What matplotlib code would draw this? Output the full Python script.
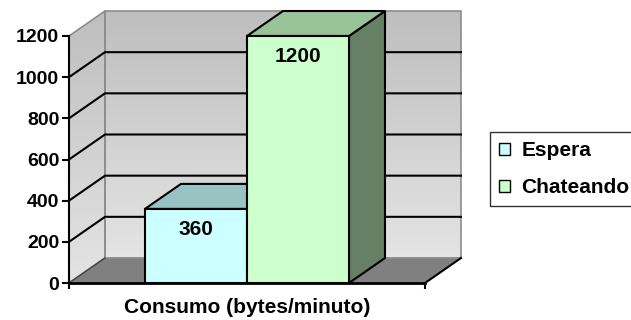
import numpy as np
import matplotlib
matplotlib.use("Agg")
import matplotlib.pyplot as plt
from matplotlib.patches import Polygon, Rectangle

plt.rcParams['font.family'] = ['Liberation Sans', 'DejaVu Sans']

# data
series = ["Espera", "Chateando"]
values = [360, 1200]
front_colors = ["#ccffff", "#ccffcc"]
top_colors = ["#99c2c2", "#99c299"]
side_colors = ["#668f8f", "#668066"]
yticks = [0, 200, 400, 600, 800, 1000, 1200]
xlabel = "Consumo (bytes/minuto)"

W, H = 631, 320
px_x = 102.0            # pixels per bar width
px_y = 247.0 / 1200     # pixels per value unit
x0 = -1.245             # left edge of the floor (front)
x1 = 2.245              # right edge of the floor (front)
dx = 36 / px_x          # depth offset in x
dy = 25 / px_y          # depth offset in y

fig = plt.figure(figsize=(W / 100, H / 100), dpi=100)
ax = fig.add_axes([0, 0, 1, 1])
ax.set_xlim(x0 - 69 / px_x, x0 + (W - 69) / px_x)
ax.set_ylim(-(H - 283) / px_y, 283 / px_y)
ax.set_facecolor("white")

top = yticks[-1]

# back wall with vertical gradient
grad = np.linspace(0, 1, 256).reshape(-1, 1)
cmap = matplotlib.colors.LinearSegmentedColormap.from_list("wall", ["#e4e4e4", "#bebebe"])
back = Polygon([(x0 + dx, dy), (x1 + dx, dy), (x1 + dx, top + dy), (x0 + dx, top + dy)],
               closed=True, facecolor="none", edgecolor="#8c8c8c", lw=1.2, zorder=2)
ax.add_patch(back)
im = ax.imshow(grad, extent=[x0 + dx, x1 + dx, dy, top + dy], origin="lower",
               cmap=cmap, aspect="auto", zorder=1)
im.set_clip_path(back)

# left wall
left = Polygon([(x0, 0), (x0 + dx, dy), (x0 + dx, top + dy), (x0, top)],
               closed=True, facecolor="none", edgecolor="#8c8c8c", lw=1.2, zorder=2)
ax.add_patch(left)
im2 = ax.imshow(grad, extent=[x0, x0 + dx, 0, top + dy], origin="lower",
                cmap=cmap, aspect="auto", zorder=1)
im2.set_clip_path(left)

# floor
ax.add_patch(Polygon([(x0, 0), (x1, 0), (x1 + dx, dy), (x0 + dx, dy)], closed=True,
                     facecolor="#808080", edgecolor="#909090", lw=1, zorder=2))
ax.plot([x1, x1 + dx], [0, dy], color="black", lw=1.5, zorder=3)
ax.plot([x0, x0 + dx], [0, dy], color="#404040", lw=1, zorder=3)

# gridlines on walls
for t in yticks[1:-1]:
    ax.plot([x0, x0 + dx, x1 + dx], [t, t + dy, t + dy], color="black", lw=1.5, zorder=3)

# bars
for i, v in enumerate(values):
    l, r = i - 0.5, i + 0.5
    ax.add_patch(Polygon([(r, 0), (r + dx, dy), (r + dx, v + dy), (r, v)], closed=True,
                         facecolor=side_colors[i], edgecolor="black", lw=1.5, zorder=4 + i))
    ax.add_patch(Polygon([(l, v), (r, v), (r + dx, v + dy), (l + dx, v + dy)], closed=True,
                         facecolor=top_colors[i], edgecolor="black", lw=1.5, zorder=4 + i))
    ax.add_patch(Rectangle((l, 0), 1, v, facecolor=front_colors[i], edgecolor="black",
                           lw=1.5, zorder=4 + i, label=series[i]))
    ax.text(i, v - 100, str(v), ha="center", va="center", fontsize=15,
            fontweight="bold", zorder=10)

# axes
for s in ["top", "right"]:
    ax.spines[s].set_visible(False)
ax.spines["left"].set_position(("data", x0))
ax.spines["left"].set_bounds(0, top)
ax.spines["left"].set_linewidth(1.5)
ax.spines["left"].set_zorder(6)
ax.spines["bottom"].set_position(("data", 0))
ax.spines["bottom"].set_bounds(x0, x1)
ax.spines["bottom"].set_linewidth(2)
ax.spines["bottom"].set_zorder(6)
ax.set_yticks(yticks)
ax.set_yticklabels([str(t) for t in yticks], fontsize=14, fontweight="bold")
ax.tick_params(axis="y", direction="out", length=5, width=1.5, pad=2)
ax.set_xticks([x0, x1])
ax.set_xticklabels(["", ""])
ax.tick_params(axis="x", direction="out", length=4, width=1.5)

ax.text((x0 + x1) / 2, -118, xlabel, ha="center", va="center", fontsize=15,
        fontweight="bold")

leg = ax.legend(loc="upper left", bbox_to_anchor=(490 / W, 1 - 132 / H),
                bbox_transform=fig.transFigure, frameon=True, fancybox=False,
                prop={"weight": "bold", "size": 15}, handlelength=0.5, handleheight=0.5,
                handletextpad=0.55, labelspacing=0.85, borderpad=0.45, borderaxespad=0)
leg.get_frame().set_edgecolor("black")
leg.get_frame().set_linewidth(1)
for h in leg.legend_handles:
    h.set_linewidth(1)

fig.savefig("out.png", dpi=100)
